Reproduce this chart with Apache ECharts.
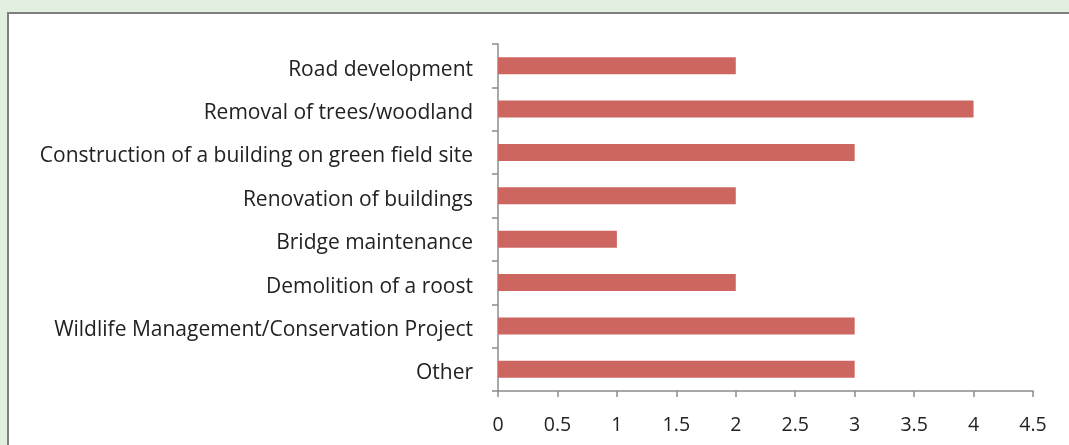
<!DOCTYPE html>
<html>
<head>
<meta charset="utf-8">
<script src="https://cdn.jsdelivr.net/npm/echarts@6/dist/echarts.min.js"></script>
<style>
html,body{margin:0;padding:0;background:#E4F0DF;}
#panel{position:absolute;left:7px;top:12px;width:1070px;height:440px;background:#fff;border:2px solid #7f7f7f;box-sizing:border-box;}
#chart{position:absolute;left:0;top:0;width:1069px;height:445px;}
</style>
</head>
<body>
<div id="panel"></div>
<div id="chart"></div>
<script>
const categories = [
  "Road development",
  "Removal of trees/woodland",
  "Construction of a building on green field site",
  "Renovation of buildings",
  "Bridge maintenance",
  "Demolition of a roost",
  "Wildlife Management/Conservation Project",
  "Other"
];
const values = [2, 4, 3, 2, 1, 2, 3, 3];
const xTicks = { min: 0, max: 4.5, interval: 0.5 };

const chart = echarts.init(document.getElementById('chart'), null, {renderer: 'canvas'});
const font = '"Open Sans", sans-serif';
chart.setOption({
  animation: false,
  grid: { left: 498, right: 36, top: 44, bottom: 54, containLabel: false },
  xAxis: {
    type: 'value',
    min: xTicks.min, max: xTicks.max, interval: xTicks.interval,
    axisLine: { show: true, lineStyle: { color: '#8c8c8c', width: 1.5 } },
    axisTick: { show: true, length: 6, lineStyle: { color: '#8c8c8c', width: 1.5 } },
    splitLine: { show: false },
    axisLabel: { margin: 24, color: '#222', fontSize: 19.5, fontFamily: font }
  },
  yAxis: {
    type: 'category',
    data: categories,
    inverse: true,
    axisLine: { show: true, lineStyle: { color: '#8c8c8c', width: 1.5 } },
    axisTick: { show: true, length: 6, lineStyle: { color: '#8c8c8c', width: 1.5 } },
    axisLabel: {
      margin: 25,
      formatter: function (v) { return '{a|' + v + '}'; },
      rich: { a: { color: '#222', fontSize: 21, fontFamily: font, padding: [8, 0, 0, 0] } }
    }
  },
  series: [{
    type: 'bar',
    data: values,
    barWidth: 17,
    itemStyle: { color: '#CD6660' }
  }]
});
</script>
</body>
</html>
